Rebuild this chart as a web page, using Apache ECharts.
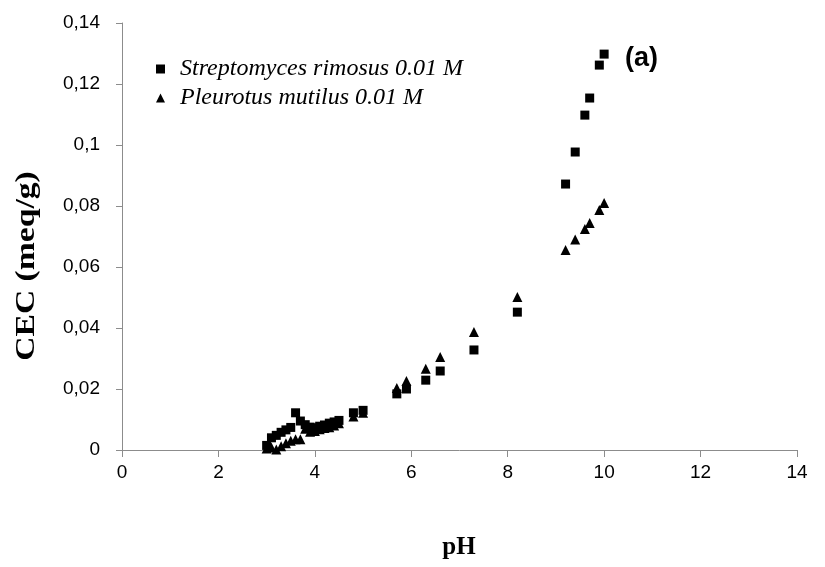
<!DOCTYPE html>
<html>
<head>
<meta charset="utf-8">
<script src="https://cdn.jsdelivr.net/npm/echarts@6/dist/echarts.min.js"></script>
<style>html,body{margin:0;padding:0;background:#fff;}#c{width:825px;height:567px;}</style>
</head>
<body>
<div id="c"></div>
<script>
var seriesNames = ['Streptomyces rimosus 0.01 M', 'Pleurotus mutilus 0.01 M'];
var phValues = [3.0, 3.1, 3.2, 3.3, 3.4, 3.5, 3.6, 3.7, 3.8, 3.9, 4.0, 4.1, 4.2, 4.3, 4.4, 4.5, 4.8, 5.0, 5.7, 5.9, 6.3, 6.6, 7.3, 8.2, 9.2, 9.4, 9.6, 9.7, 9.9, 10.0];
var strepCEC = [0.0015, 0.0040, 0.0048, 0.0058, 0.0066, 0.0074, 0.0122, 0.0095, 0.0083, 0.0075, 0.0073, 0.0078, 0.0082, 0.0088, 0.0092, 0.0097, 0.0122, 0.0130, 0.0184, 0.0200, 0.0229, 0.0259, 0.0328, 0.0452, 0.0872, 0.0977, 0.1098, 0.1154, 0.1262, 0.1298];
var pleuCEC = [0.0005, 0.0008, 0.0002, 0.0012, 0.0022, 0.0030, 0.0035, 0.0035, 0.0070, 0.0060, 0.0062, 0.0068, 0.0072, 0.0075, 0.0080, 0.0088, 0.0110, 0.0122, 0.0203, 0.0226, 0.0266, 0.0305, 0.0387, 0.0502, 0.0656, 0.0690, 0.0725, 0.0744, 0.0787, 0.0810];
var xTitle = 'pH';
var yTitle = 'CEC (meq/g)';
var panelLabel = '(a)';

function pairs(xs, ys) { return xs.map(function (x, i) { return [x, ys[i]]; }); }

var chart = echarts.init(document.getElementById('c'));
var axisGray = '#8c8c8c';
chart.setOption({
  animation: false,
  backgroundColor: '#fff',
  grid: { left: 122, right: 28, top: 23, bottom: 117, containLabel: false },
  xAxis: {
    type: 'value', min: 0, max: 14, interval: 2,
    axisLine: { show: true, lineStyle: { color: axisGray, width: 1 } },
    axisTick: { show: true, inside: false, length: 7, lineStyle: { color: axisGray } },
    axisLabel: { color: '#000', fontFamily: 'Liberation Sans', fontSize: 19, margin: 13 },
    splitLine: { show: false }
  },
  yAxis: {
    type: 'value', min: 0, max: 0.14, interval: 0.02,
    axisLine: { show: true, lineStyle: { color: axisGray, width: 1 } },
    axisTick: { show: true, inside: false, length: 6, lineStyle: { color: axisGray } },
    axisLabel: {
      color: '#000', fontFamily: 'Liberation Sans', fontSize: 19, margin: 22,
      formatter: function (v) { return String(+v.toFixed(4)).replace('.', ','); }
    },
    splitLine: { show: false }
  },
  legend: {
    orient: 'vertical', left: 151, top: 52, itemWidth: 9, itemHeight: 9, itemGap: 5,
    data: [{ name: seriesNames[0], icon: 'rect' }, { name: seriesNames[1], icon: 'triangle' }],
    textStyle: { fontFamily: 'Liberation Serif', fontStyle: 'italic', fontSize: 24, color: '#000', padding: [0, 0, 0, 10] }
  },
  graphic: [
    { type: 'text', left: 625, top: 45, style: { text: panelLabel, font: 'bold 27px "Liberation Sans"', fill: '#000' } },
    { type: 'text', x: 459, y: 548, style: { text: xTitle, font: 'bold 25px "Liberation Serif"', fill: '#000', align: 'center', verticalAlign: 'middle' } },
    { type: 'text', x: 27, y: 266, rotation: Math.PI / 2, scaleX: 1.2, scaleY: 1, style: { text: yTitle, font: 'bold 28px "Liberation Serif"', fill: '#000', align: 'center', verticalAlign: 'middle' } }
  ],
  series: [
    { name: seriesNames[0], type: 'scatter', symbol: 'rect', symbolSize: 9, itemStyle: { color: '#000', opacity: 1 }, data: pairs(phValues, strepCEC) },
    { name: seriesNames[1], type: 'scatter', symbol: 'triangle', symbolSize: [10, 10], itemStyle: { color: '#000', opacity: 1 }, data: pairs(phValues, pleuCEC) }
  ]
});
</script>
</body>
</html>
